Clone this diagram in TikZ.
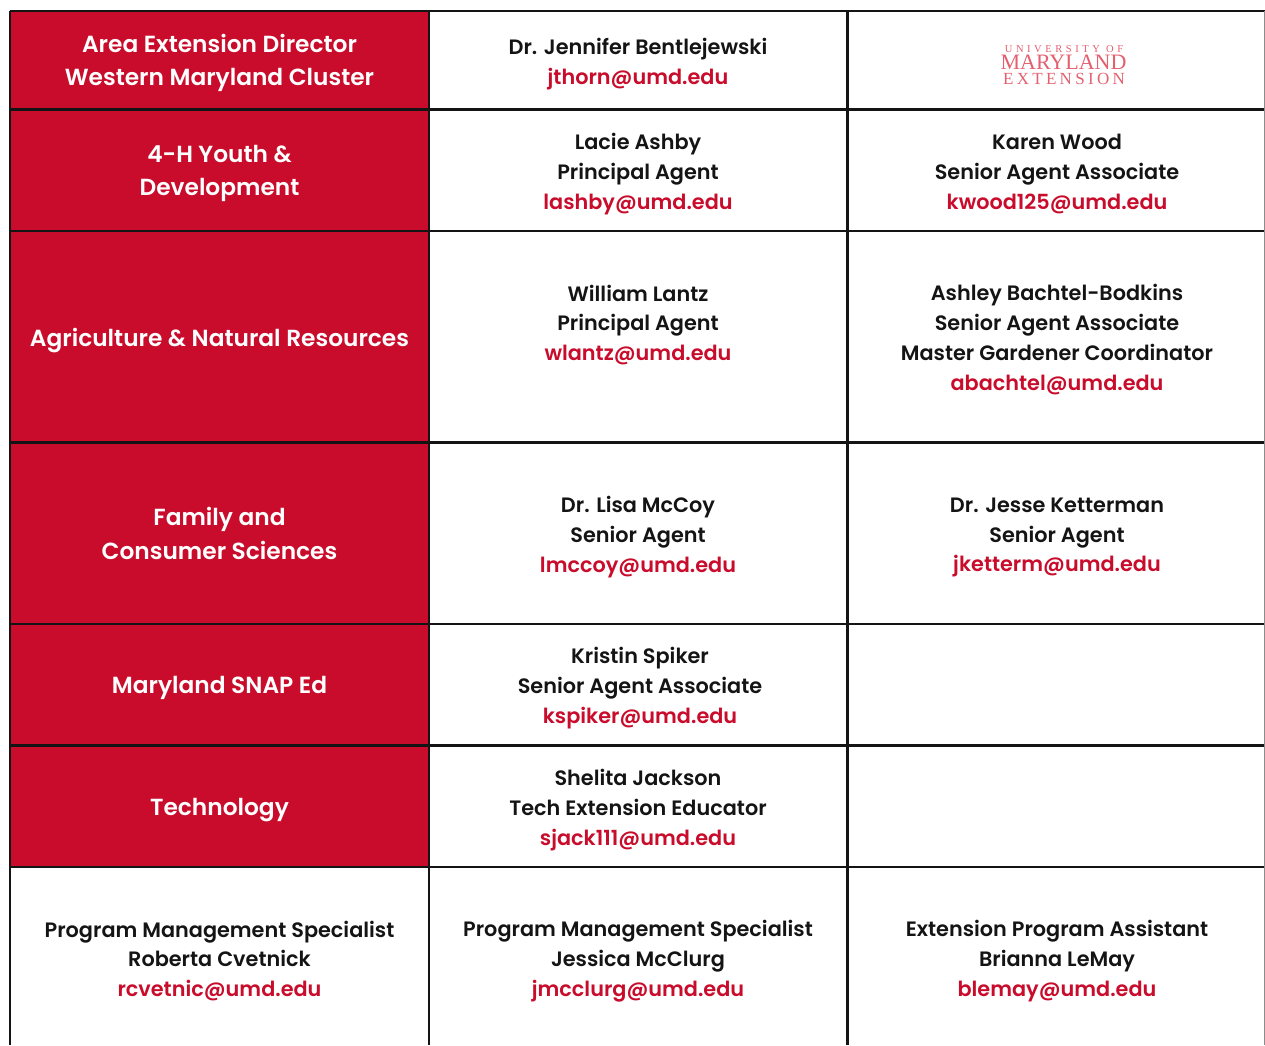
\documentclass[tikz,border=0pt]{standalone}
\usepackage{fontspec}
\setmainfont{Poppins}[BoldFont={Poppins SemiBold}]
\newfontfamily\logofont{Liberation Serif}
\definecolor{umdred}{HTML}{C90C2B}
\definecolor{logored}{HTML}{E4606F}
\definecolor{ink}{HTML}{141414}
\tikzset{
 x=1pt,y=-1pt,
 head/.style={font=\fontsize{23.3}{33.5}\selectfont\bfseries,text=white,align=center,anchor=center},
 body/.style={font=\fontsize{20.8}{29.9}\selectfont\bfseries,text=ink,align=center,anchor=center},
 gridline/.style={line width=2.6pt,draw=ink},
 edgeline/.style={line width=1.4pt,draw=black!45},
 logo/.style={text=logored,anchor=base,inner sep=0pt}
}
\newcommand{\ml}[1]{\textcolor{umdred}{#1}}
\begin{document}
\begin{tikzpicture}
\useasboundingbox (0,0) rectangle (1265,1045);
\fill[white] (0,0) rectangle (1265,1045);
\fill[umdred] (10,11) rectangle (429,867);
\coordinate (a0) at (10,11); \coordinate (b0) at (1265,11);
\coordinate (a1) at (10,109.5); \coordinate (b1) at (1265,109.5);
\coordinate (a2) at (10,231); \coordinate (b2) at (1265,231);
\coordinate (a3) at (10,442.5); \coordinate (b3) at (1265,442.5);
\coordinate (a4) at (10,624); \coordinate (b4) at (1265,624);
\coordinate (a5) at (10,745.5); \coordinate (b5) at (1265,745.5);
\coordinate (a6) at (10,867); \coordinate (b6) at (1265,867);
\coordinate (v0t) at (10,11); \coordinate (v0b) at (10,1045);
\coordinate (v1t) at (429,11); \coordinate (v1b) at (429,1045);
\coordinate (v2t) at (847.5,11); \coordinate (v2b) at (847.5,1045);
\coordinate (v3t) at (1264.5,11); \coordinate (v3b) at (1264.5,1045);
\foreach \i in {0,...,6} \draw[gridline] (a\i) -- (b\i);
\draw[gridline] (v0t) -- (v0b);
\draw[gridline] (v1t) -- (v1b);
\draw[gridline] (v2t) -- (v2b);
\draw[edgeline] (v3t) -- (v3b);
\node[head] (h1) at (219.5,63) {Area Extension Director\\Western Maryland Cluster};
\node[head] (h2) at (219.5,173.5) {4-H Youth \&\\Development};
\node[head] (h3) at (219.5,341) {Agriculture \& Natural Resources};
\node[head] (h4) at (219.5,533.5) {Family and\\Consumer Sciences};
\node[head] (h5) at (219.5,688) {Maryland SNAP Ed};
\node[head] (h6) at (219.5,810) {Technology};
\node[body] (c11) at (638,64) {Dr. Jennifer Bentlejewski\\\ml{jthorn@umd.edu}};
\node[body] (c21) at (638,174) {Lacie Ashby\\Principal Agent\\\ml{lashby@umd.edu}};
\node[body] (c22) at (1057,174) {Karen Wood\\Senior Agent Associate\\\ml{kwood125@umd.edu}};
\node[body] (c31) at (638,325) {William Lantz\\Principal Agent\\\ml{wlantz@umd.edu}};
\node[body] (c32) at (1057,339.5) {Ashley Bachtel-Bodkins\\Senior Agent Associate\\Master Gardener Coordinator\\\ml{abachtel@umd.edu}};
\node[body] (c41) at (638,537) {Dr. Lisa McCoy\\Senior Agent\\\ml{lmccoy@umd.edu}};
\node[body] (c42) at (1057,537.5) {Dr. Jesse Ketterman\\Senior Agent\\\ml{jketterm@umd.edu}};
\node[body] (c51) at (640,688) {Kristin Spiker\\Senior Agent Associate\\\ml{kspiker@umd.edu}};
\node[body] (c61) at (638,810) {Shelita Jackson\\Tech Extension Educator\\\ml{sjack111@umd.edu}};
\node[body] (c70) at (219.5,961) {Program Management Specialist\\Roberta Cvetnick\\\ml{rcvetnic@umd.edu}};
\node[body] (c71) at (638,961) {Program Management Specialist\\Jessica McClurg\\\ml{jmcclurg@umd.edu}};
\node[body] (c72) at (1057,961) {Extension Program Assistant\\Brianna LeMay\\\ml{blemay@umd.edu}};
\node[logo,font=\logofont\fontsize{10.5}{10.5}\selectfont\addfontfeature{LetterSpace=34}] (l1) at (1064,52) {UNIVERSITY OF};
\node[logo,font=\logofont\fontsize{22}{22}\selectfont] (l2) at (1063.5,69.5) {MARYLAND};
\node[logo,font=\logofont\fontsize{17}{17}\selectfont\addfontfeature{LetterSpace=19.5}] (l3) at (1064,84.5) {EXTENSION};
\end{tikzpicture}
\end{document}
